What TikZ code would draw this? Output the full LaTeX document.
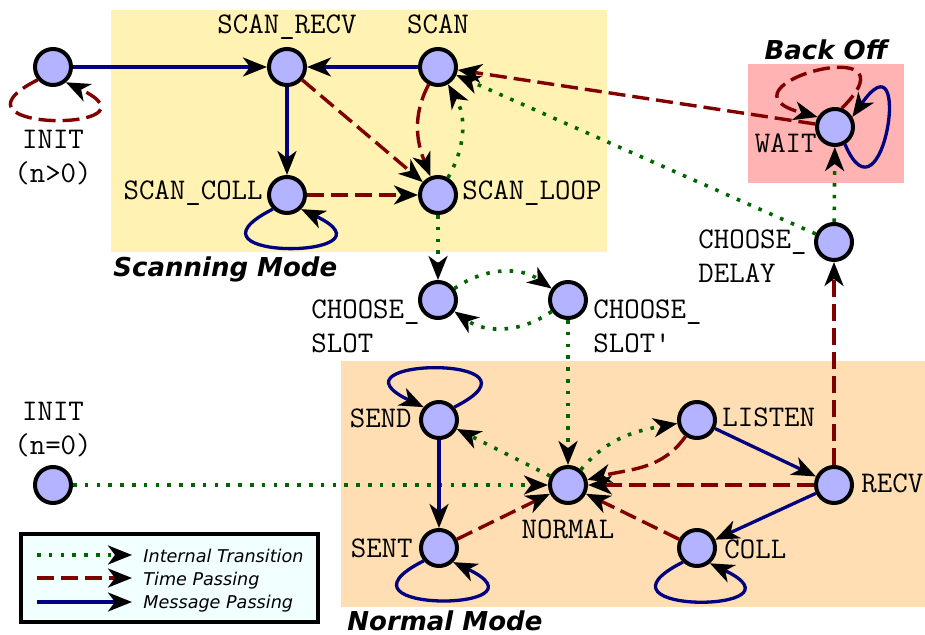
\documentclass[tikz,border=0pt]{standalone}
\usepackage{fontspec}
\newfontfamily\modefont{DejaVu Sans}
\usetikzlibrary{arrows.meta}
\definecolor{statefill}{RGB}{179,179,255}
\definecolor{scanbg}{RGB}{255,242,179}
\definecolor{normalbg}{RGB}{255,222,179}
\definecolor{backoffbg}{RGB}{255,179,179}
\definecolor{legendbg}{RGB}{242,255,255}
\definecolor{msgblue}{RGB}{0,0,128}
\definecolor{timered}{RGB}{128,0,0}
\definecolor{intgreen}{RGB}{0,100,0}
\tikzset{stnode/.style={circle,draw=black,line width=2pt,fill=statefill,minimum size=18pt,inner sep=0pt}}
\tikzset{lbl/.style={font=\ttfamily\fontsize{15}{17}\selectfont,inner sep=0pt}}
\tikzset{modelbl/.style={font=\modefont\bfseries\itshape\fontsize{13}{15}\selectfont,inner sep=0pt}}
\tikzset{legtext/.style={font=\modefont\itshape\fontsize{8.8}{10}\selectfont,inner sep=0pt}}
\tikzset{headed/.style={-{Stealth[length=12pt,width=9.5pt,inset=3.5pt,color=black]}}}
\tikzset{msg/.style={headed,draw=msgblue,line width=1.65pt}}
\tikzset{timep/.style={headed,draw=timered,line width=1.7pt,dash pattern=on 8.5pt off 3.5pt}}
\tikzset{internal/.style={headed,draw=intgreen,line width=1.8pt,dash pattern=on 1.8pt off 4.1pt}}

\begin{document}
\begin{tikzpicture}[x=0.5pt,y=0.5pt]
  \useasboundingbox (0,0) rectangle (925,-635);
  % mode areas
  \fill[scanbg] (111,-10) rectangle (607,-252);
  \fill[backoffbg] (748,-64) rectangle (904,-183);
  \fill[normalbg] (341,-361) rectangle (925,-607);
  \node[modelbl,anchor=base west] (scanmode) at (113,-277) {Scanning Mode};
  \node[modelbl,anchor=base] (backoff) at (826,-60) {Back Off};
  \node[modelbl,anchor=base west] (normalmode) at (347,-630) {Normal Mode};

  % states
  \node[stnode] (init1) at (53,-67) {};
  \node[stnode] (srecv) at (287,-67) {};
  \node[stnode] (scan) at (438,-67) {};
  \node[stnode] (scoll) at (287,-195) {};
  \node[stnode] (sloop) at (438,-195) {};
  \node[stnode] (wait) at (835,-127) {};
  \node[stnode] (cdelay) at (834,-242) {};
  \node[stnode] (cslot) at (438,-300) {};
  \node[stnode] (cslot2) at (568,-300) {};
  \node[stnode] (send) at (439,-420) {};
  \node[stnode] (sent) at (439,-548) {};
  \node[stnode] (normal) at (568,-485) {};
  \node[stnode] (listen) at (697,-420) {};
  \node[stnode] (recv) at (834,-485) {};
  \node[stnode] (coll) at (697,-548) {};
  \node[stnode] (init2) at (53,-485) {};

  % state names
  \node[lbl,align=center,anchor=north] (init1l) at (53,-129.5) {INIT\\(n>0)};
  \node[lbl,align=center,anchor=north] (init2l) at (53,-401.5) {INIT\\(n=0)};
  \node[lbl,anchor=base] (srecvl) at (287,-34) {SCAN\_RECV};
  \node[lbl,anchor=base] (scanl) at (438,-34) {SCAN};
  \node[lbl,anchor=base east] (scolll) at (263,-200) {SCAN\_COLL};
  \node[lbl,anchor=base west] (sloopl) at (462,-200) {SCAN\_LOOP};
  \node[lbl,anchor=base east] (waitl) at (817,-153) {WAIT};
  \node[lbl,align=left,anchor=north west] (cdelayl) at (698,-229.5) {CHOOSE\_\\DELAY};
  \node[lbl,align=left,anchor=north west] (cslotl) at (311,-299.5) {CHOOSE\_\\SLOT};
  \node[lbl,align=left,anchor=north west] (cslot2l) at (593,-299.5) {CHOOSE\_\\SLOT'};
  \node[lbl,anchor=base east] (sendl) at (412,-428) {SEND};
  \node[lbl,anchor=base east] (sentl) at (413,-557) {SENT};
  \node[lbl,anchor=base] (normall) at (568,-538) {NORMAL};
  \node[lbl,anchor=base west] (listenl) at (722,-427) {LISTEN};
  \node[lbl,anchor=base west] (recvl) at (861,-492) {RECV};
  \node[lbl,anchor=base west] (colll) at (724,-558) {COLL};

  % scanning mode
  \draw[msg] (init1) -- (srecv);
  \draw[timep] (init1.220) .. controls +(-105,-53) and +(105,-50) .. (init1.-50);
  \draw[msg] (scan) -- (srecv);
  \draw[msg] (srecv) -- (scoll);
  \draw[timep] (srecv) -- (sloop);
  \draw[timep] (scoll) -- (sloop);
  \draw[msg] (scoll.225) .. controls +(-105,-53) and +(105,-50) .. (scoll.-45);
  \draw[timep] (scan) to[out=242,in=112] (sloop);
  \draw[internal] (sloop) to[out=60,in=-60] (scan);

  % back off
  \draw[timep] (wait) -- (scan);
  \draw[internal] (cdelay) -- (scan);
  \draw[internal] (cdelay) -- (wait);
  \draw[timep] (wait.70) .. controls +(82,81) and +(-113,30) .. (wait.150);
  \draw[msg] (wait.-60) .. controls +(38,-89) and +(62,89) .. (wait.30);

  % slot choice
  \draw[internal] (sloop) -- (cslot);
  \draw[internal] (cslot) to[bend left=35] (cslot2);
  \draw[internal] (cslot2) to[bend left=35] (cslot);
  \draw[internal] (cslot2) -- (normal);

  % normal mode
  \draw[internal] (init2) -- (normal);
  \draw[internal] (normal) -- (send);
  \draw[internal] (normal) to[out=50,in=190] (listen);
  \draw[timep] (listen) to[out=235,in=15] (normal);
  \draw[timep] (recv) -- (normal);
  \draw[timep] (coll) -- (normal);
  \draw[timep] (sent) -- (normal);
  \draw[msg] (send) -- (sent);
  \draw[msg] (listen) -- (recv);
  \draw[msg] (recv) -- (coll);
  \draw[timep] (recv) -- (cdelay);
  \draw[msg] (send.40) .. controls +(105,53) and +(-105,50) .. (send.140);
  \draw[msg] (sent.220) .. controls +(-105,-53) and +(105,-50) .. (sent.-45);
  \draw[msg] (coll.225) .. controls +(-105,-53) and +(105,-50) .. (coll.-50);

  % legend
  \filldraw[fill=legendbg,draw=black,line width=1.6pt] (21,-534) rectangle (318,-622);
  \coordinate (lg1a) at (37,-555);
  \coordinate (lg1b) at (132,-555);
  \coordinate (lg2a) at (37,-578);
  \coordinate (lg2b) at (132,-578);
  \coordinate (lg3a) at (37,-602);
  \coordinate (lg3b) at (132,-602);
  \draw[internal] (lg1a) -- (lg1b);
  \draw[timep] (lg2a) -- (lg2b);
  \draw[msg] (lg3a) -- (lg3b);
  \node[legtext,anchor=base west] (lgt1) at (143,-562) {Internal Transition};
  \node[legtext,anchor=base west] (lgt2) at (143,-585) {Time Passing};
  \node[legtext,anchor=base west] (lgt3) at (143,-608) {Message Passing};
\end{tikzpicture}
\end{document}
